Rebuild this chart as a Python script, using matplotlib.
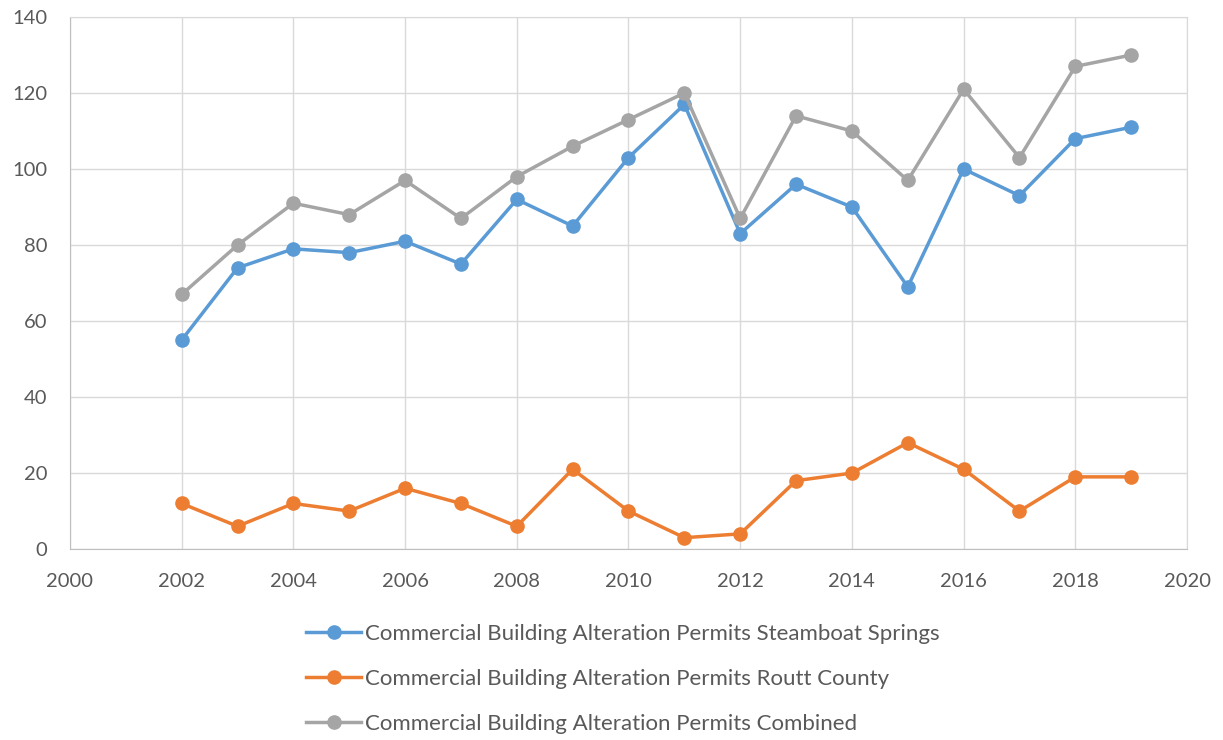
import matplotlib.pyplot as plt

years = list(range(2002, 2020))
steamboat = [55, 74, 79, 78, 81, 75, 92, 85, 103, 117, 83, 96, 90, 69, 100, 93, 108, 111]
routt = [12, 6, 12, 10, 16, 12, 6, 21, 10, 3, 4, 18, 20, 28, 21, 10, 19, 19]
combined = [67, 80, 91, 88, 97, 87, 98, 106, 113, 120, 87, 114, 110, 97, 121, 103, 127, 130]

labels = [
    "Commercial Building Alteration Permits Steamboat Springs",
    "Commercial Building Alteration Permits Routt County",
    "Commercial Building Alteration Permits Combined",
]
colors = ["#5B9BD5", "#ED7D31", "#A5A5A5"]

plt.rcParams["font.family"] = ["Lato", "DejaVu Sans"]

fig = plt.figure(figsize=(12.23, 7.4), dpi=100)
ax = fig.add_axes([0.0572, 0.258, 0.9134, 0.719])

for series, label, color in zip([steamboat, routt, combined], labels, colors):
    ax.plot(years, series, color=color, linewidth=2.5, marker="o",
            markersize=9.5, label=label, zorder=3)

ax.set_xlim(2000, 2020)
ax.set_ylim(0, 140)
ax.set_xticks(range(2000, 2021, 2))
ax.set_yticks(range(0, 141, 20))
ax.grid(True, color="#D9D9D9", linewidth=1)
ax.set_axisbelow(True)
for spine in ax.spines.values():
    spine.set_color("#D9D9D9")
ax.spines["bottom"].set_color("#BFBFBF")
ax.spines["left"].set_color("#BFBFBF")
ax.tick_params(length=0, labelsize=14.5, colors="#595959")
ax.tick_params(axis="x", pad=17)
ax.tick_params(axis="y", pad=16.5)

fig.legend(loc="upper left", bbox_to_anchor=(0.250, 0.157), frameon=False,
           fontsize=16, handlelength=2.5, labelspacing=1.13, labelcolor="#595959",
           borderpad=0, borderaxespad=0, handletextpad=0.15)

fig.savefig("out.png", dpi=100)
